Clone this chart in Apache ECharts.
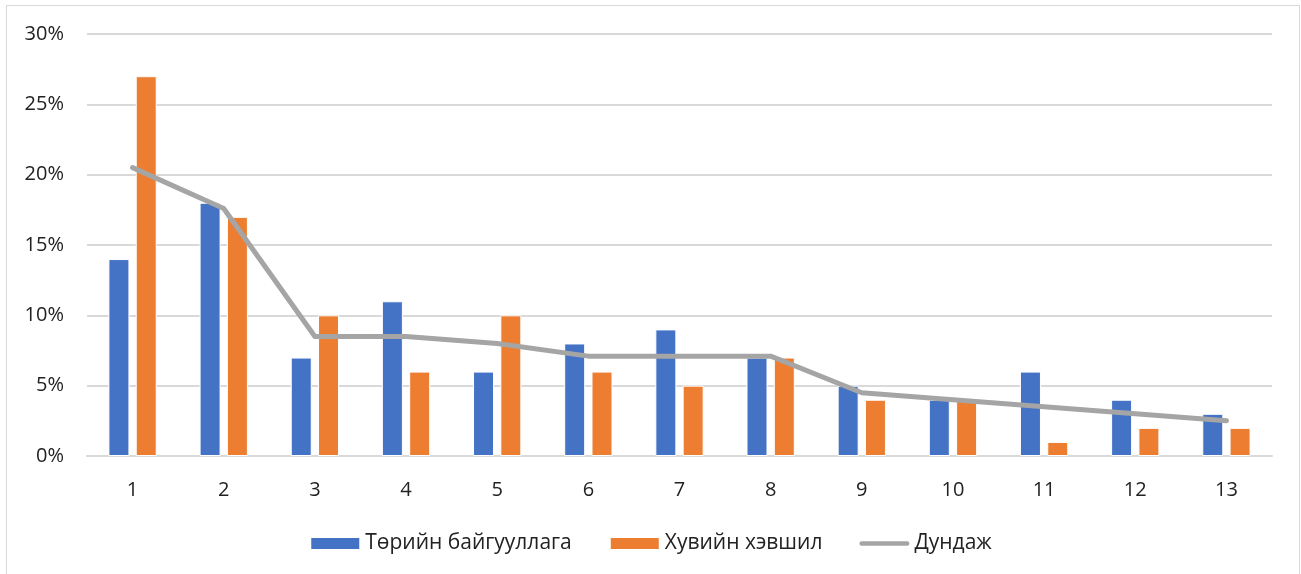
<!DOCTYPE html>
<html>
<head>
<meta charset="utf-8">
<script src="https://cdn.jsdelivr.net/npm/echarts@6/dist/echarts.min.js"></script>
<style>
  html, body { margin: 0; padding: 0; background: #fff; overflow: hidden; }
  #frame { position: absolute; left: 6px; top: 5px; width: 1292px; height: 600px; border: 1px solid #d9d9d9; }
  #chart { position: absolute; left: 0; top: 0; width: 1301px; height: 574px; }
</style>
</head>
<body>
<div id="frame"></div>
<div id="chart"></div>
<script>
const categories = ["1", "2", "3", "4", "5", "6", "7", "8", "9", "10", "11", "12", "13"];
const stateOrg = [14, 18, 7, 11, 6, 8, 9, 7, 5, 4, 6, 4, 3];
const privateSector = [27, 17, 10, 6, 10, 6, 5, 7, 4, 4, 1, 2, 2];
const average = [20.5, 17.6, 8.5, 8.5, 8, 7.1, 7.1, 7.1, 4.5, 4, 3.5, 3, 2.5];

const font = "'Open Sans', 'Noto Sans', sans-serif";
// thick rounded line used as the legend marker of the average series
const lineIcon = "path://M2.5,0H53.5A2.5,2.5 0 0 1 53.5,5H2.5A2.5,2.5 0 0 1 2.5,0Z";

const chart = echarts.init(document.getElementById("chart"));

chart.setOption({
  animation: false,
  textStyle: { fontFamily: font },
  grid: { left: 87, right: 29, top: 34, bottom: 118 },
  legend: {
    top: 528,
    left: "center",
    itemWidth: 50,
    itemHeight: 13,
    itemGap: 37,
    textStyle: { fontSize: 21, color: "#222", fontFamily: font },
    data: [
      { name: "Төрийн байгууллага", icon: "rect" },
      { name: "Хувийн хэвшил", icon: "rect" },
      { name: "Дундаж", icon: lineIcon, itemStyle: { color: "#A5A5A5" } },
    ],
  },
  xAxis: {
    type: "category",
    data: categories,
    axisLine: { lineStyle: { color: "#d9d9d9", width: 2 } },
    axisTick: { show: false },
    axisLabel: { fontSize: 20, color: "#222", margin: 24 },
  },
  yAxis: {
    type: "value",
    min: 0,
    max: 30,
    interval: 5,
    axisLine: { show: false },
    axisTick: { show: false },
    axisLabel: { fontSize: 20, color: "#222", margin: 23, formatter: "{value}%" },
    splitLine: { lineStyle: { color: "#d9d9d9", width: 2 } },
  },
  series: [
    {
      name: "Төрийн байгууллага",
      type: "bar",
      data: stateOrg,
      barWidth: 21,
      barGap: "30%",
      itemStyle: { color: "#4472C4", borderColor: "#fff", borderWidth: 1 },
    },
    {
      name: "Хувийн хэвшил",
      type: "bar",
      data: privateSector,
      barWidth: 21,
      itemStyle: { color: "#ED7D31", borderColor: "#fff", borderWidth: 1 },
    },
    {
      name: "Дундаж",
      type: "line",
      data: average,
      symbol: "none",
      z: 5,
      lineStyle: { color: "#A5A5A5", width: 5, cap: "round", join: "round" },
      itemStyle: { color: "#A5A5A5" },
    },
  ],
});
</script>
</body>
</html>
